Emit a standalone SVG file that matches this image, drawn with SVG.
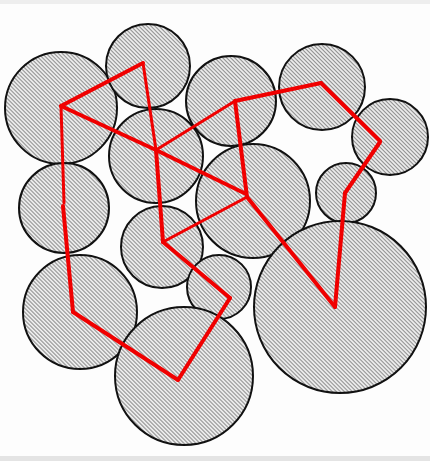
<svg xmlns="http://www.w3.org/2000/svg" width="430" height="461" viewBox="0 0 430 461">
  <defs>
    <pattern id="hatch" patternUnits="userSpaceOnUse" width="2.83" height="10" patternTransform="rotate(-45)">
      <rect x="0" y="0" width="2.83" height="10" fill="#f2f2f2"/>
      <rect x="0" y="0" width="1.1" height="10" fill="#8c8c8c"/>
    </pattern>
  </defs>
  <style>
    .c { fill: url(#hatch); stroke: #111; stroke-width: 2; }
    .r { fill: none; stroke: #f00000; stroke-linecap: round; stroke-linejoin: round; }
    .t { stroke-width: 3; }
    .T { stroke-width: 4; }
  </style>
  <rect x="0" y="0" width="430" height="461" fill="#fdfdfd"/>
  <rect x="0" y="0" width="430" height="4" fill="#eeeeee"/>
  <rect x="0" y="456" width="430" height="5" fill="#e4e4e4"/>
  <g id="nodes">
    <g id="nA"><circle class="c" cx="61" cy="108" r="56"/></g>
    <g id="nB"><circle class="c" cx="148" cy="66" r="42"/></g>
    <g id="nC"><circle class="c" cx="156" cy="156" r="47"/></g>
    <g id="nD"><circle class="c" cx="64" cy="208" r="45"/></g>
    <g id="nE"><circle class="c" cx="231" cy="101" r="45"/></g>
    <g id="nF"><circle class="c" cx="322" cy="87" r="43"/></g>
    <g id="nG"><circle class="c" cx="390" cy="137" r="38"/></g>
    <g id="nH"><circle class="c" cx="346" cy="193" r="30"/></g>
    <g id="nI"><circle class="c" cx="253" cy="201" r="57"/></g>
    <g id="nN"><circle class="c" cx="162" cy="247" r="41"/></g>
    <g id="nK"><circle class="c" cx="219" cy="287" r="32"/></g>
    <g id="nM"><circle class="c" cx="80" cy="312" r="57"/></g>
    <g id="nJ"><circle class="c" cx="340" cy="307" r="86"/></g>
    <g id="nL"><circle class="c" cx="184" cy="376" r="69"/></g>
  </g>
  <g id="connectors">
    <line class="r T" x1="61" y1="106" x2="143" y2="63"/>
    <line class="r t" x1="143" y1="63" x2="156" y2="150"/>
    <line class="r T" x1="61" y1="106" x2="156" y2="150"/>
    <line class="r t" x1="61" y1="106" x2="64" y2="203"/>
    <line class="r T" x1="63" y1="206" x2="73" y2="312"/>
    <line class="r T" x1="73" y1="312" x2="178" y2="380"/>
    <line class="r T" x1="178" y1="380" x2="230" y2="298"/>
    <line class="r T" x1="230" y1="298" x2="163" y2="242"/>
    <line class="r T" x1="163" y1="242" x2="156" y2="150"/>
    <line class="r t" x1="163" y1="242" x2="247" y2="197"/>
    <line class="r T" x1="156" y1="150" x2="244" y2="193"/>
    <line class="r t" x1="156" y1="150" x2="235" y2="101"/>
    <line class="r T" x1="235" y1="101" x2="247" y2="197"/>
    <line class="r T" x1="235" y1="101" x2="321" y2="83"/>
    <line class="r T" x1="321" y1="83" x2="380" y2="141"/>
    <line class="r T" x1="380" y1="142" x2="345" y2="193"/>
    <line class="r T" x1="345" y1="193" x2="335" y2="307"/>
    <line class="r T" x1="247" y1="197" x2="335" y2="307"/>
  </g>
</svg>
